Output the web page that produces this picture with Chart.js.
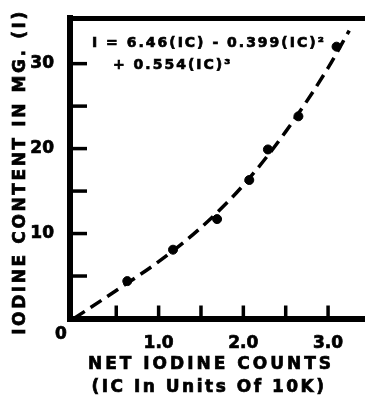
<!DOCTYPE html>
<html lang="en">
<head>
<meta charset="UTF-8">
<title>Iodine Content vs Net Iodine Counts</title>
<script src="https://cdn.jsdelivr.net/npm/chart.js"></script>
<style>
  body { margin: 0; background: #fff; }
  canvas { display: block; }
</style>
</head>
<body>
<canvas id="iodineChart" width="370" height="397"></canvas>
<script>
// fitted curve
const curveIC = [0, 0.5, 1.0, 1.5, 2.0, 2.5, 3.0, 3.25];
const curveI = [0, 3.3, 6.7, 10.7, 15.7, 22.0, 29.5, 33.9];

// measured points
const measuredIC = [0.63, 1.17, 1.69, 2.07, 2.29, 2.65, 3.10];
const measuredI = [4.4, 8.1, 11.7, 16.3, 19.9, 23.8, 32.0];

const xTicks = [0.5, 1, 1.5, 2, 2.5, 3];
const xTickLabels = ['', '1.0', '', '2.0', '', '3.0'];
const yTicks = [5, 10, 15, 20, 25, 30];
const yTickLabels = ['', '10', '', '20', '', '30'];

const FONT = '"DejaVu Sans", sans-serif';

const ctx = document.getElementById('iodineChart').getContext('2d');

// fill + thin stroke so the lettering looks as heavy as the print
function heavyText(c, text, x, y) {
    c.fillText(text, x, y);
    c.strokeText(text, x, y);
}

const decorations = {
    id: 'decorations',
    afterDatasetsDraw(chart) {
        const { ctx, chartArea, scales: { x, y } } = chart;
        ctx.save();
        ctx.strokeStyle = '#000';
        ctx.lineWidth = 3.5;
        // tick marks point inward
        xTicks.forEach(v => {
            const px = x.getPixelForValue(v);
            ctx.beginPath();
            ctx.moveTo(px, chartArea.bottom);
            ctx.lineTo(px, chartArea.bottom - 13);
            ctx.stroke();
        });
        yTicks.forEach(v => {
            const py = y.getPixelForValue(v);
            ctx.beginPath();
            ctx.moveTo(chartArea.left, py);
            ctx.lineTo(chartArea.left + 17, py);
            ctx.stroke();
        });
        ctx.restore();
    },
    afterDraw(chart) {
        const { ctx } = chart;
        ctx.save();
        ctx.fillStyle = '#000';
        ctx.strokeStyle = '#000';
        ctx.lineWidth = 0.7;
        ctx.textBaseline = 'middle';

        // equation
        ctx.font = 'bold 14px ' + FONT;
        ctx.letterSpacing = '2px';
        ctx.textAlign = 'left';
        heavyText(ctx, 'I = 6.46(IC) - 0.399(IC)²', 92, 43);
        heavyText(ctx, '+ 0.554(IC)³', 113, 65);

        // origin label
        ctx.font = 'bold 17px ' + FONT;
        ctx.letterSpacing = '0px';
        ctx.textAlign = 'center';
        heavyText(ctx, '0', 61, 335);

        // x title
        ctx.letterSpacing = '3px';
        heavyText(ctx, 'NET IODINE COUNTS', 211, 365);
        ctx.letterSpacing = '2.5px';
        heavyText(ctx, '(IC In Units Of 10K)', 209, 388);

        // y title
        ctx.translate(21, 172);
        ctx.rotate(-Math.PI / 2);
        ctx.letterSpacing = '2.6px';
        heavyText(ctx, 'IODINE CONTENT IN MG. (I)', 0, 0);
        ctx.restore();
    }
};

const tickFont = { family: FONT, size: 17, weight: 'bold' };

new Chart(ctx, {
    type: 'scatter',
    data: {
        datasets: [
            {
                label: 'Fit',
                data: curveIC.map((v, i) => ({ x: v, y: curveI[i] })),
                showLine: true,
                borderColor: '#000',
                borderWidth: 3.5,
                borderDash: [13, 7],
                cubicInterpolationMode: 'monotone',
                pointRadius: 0
            },
            {
                label: 'Measured',
                data: measuredIC.map((v, i) => ({ x: v, y: measuredI[i] })),
                backgroundColor: '#000',
                borderColor: '#000',
                pointRadius: 4.5
            }
        ]
    },
    options: {
        responsive: false,
        animation: false,
        layout: { padding: 0 },
        plugins: {
            legend: { display: false },
            title: { display: false },
            tooltip: { enabled: false }
        },
        scales: {
            x: {
                type: 'linear',
                position: 'bottom',
                min: -0.046,
                max: 3.43,
                grid: { display: false },
                border: { color: '#000', width: 6 },
                afterBuildTicks: (scale) => { scale.ticks = xTicks.map(v => ({ value: v })); },
                afterFit: (scale) => { scale.height = 78.5; },
                ticks: {
                    autoSkip: false,
                    maxRotation: 0,
                    padding: 7,
                    color: '#000',
                    textStrokeColor: '#000',
                    textStrokeWidth: 0.7,
                    font: tickFont,
                    callback: (v, i) => xTickLabels[i]
                }
            },
            xTop: {
                type: 'linear',
                position: 'top',
                min: -0.046,
                max: 3.43,
                grid: { display: false },
                border: { color: '#000', width: 5 },
                ticks: { display: false },
                afterFit: (scale) => { scale.height = 14.5; }
            },
            y: {
                min: 0,
                max: 35.35,
                grid: { display: false },
                border: { color: '#000', width: 6 },
                afterBuildTicks: (scale) => { scale.ticks = yTicks.map(v => ({ value: v })); },
                afterFit: (scale) => { scale.width = 70; },
                ticks: {
                    autoSkip: false,
                    padding: 8,
                    color: '#000',
                    textStrokeColor: '#000',
                    textStrokeWidth: 0.7,
                    font: tickFont,
                    callback: (v, i) => yTickLabels[i]
                }
            }
        }
    },
    plugins: [decorations]
});
</script>
</body>
</html>
